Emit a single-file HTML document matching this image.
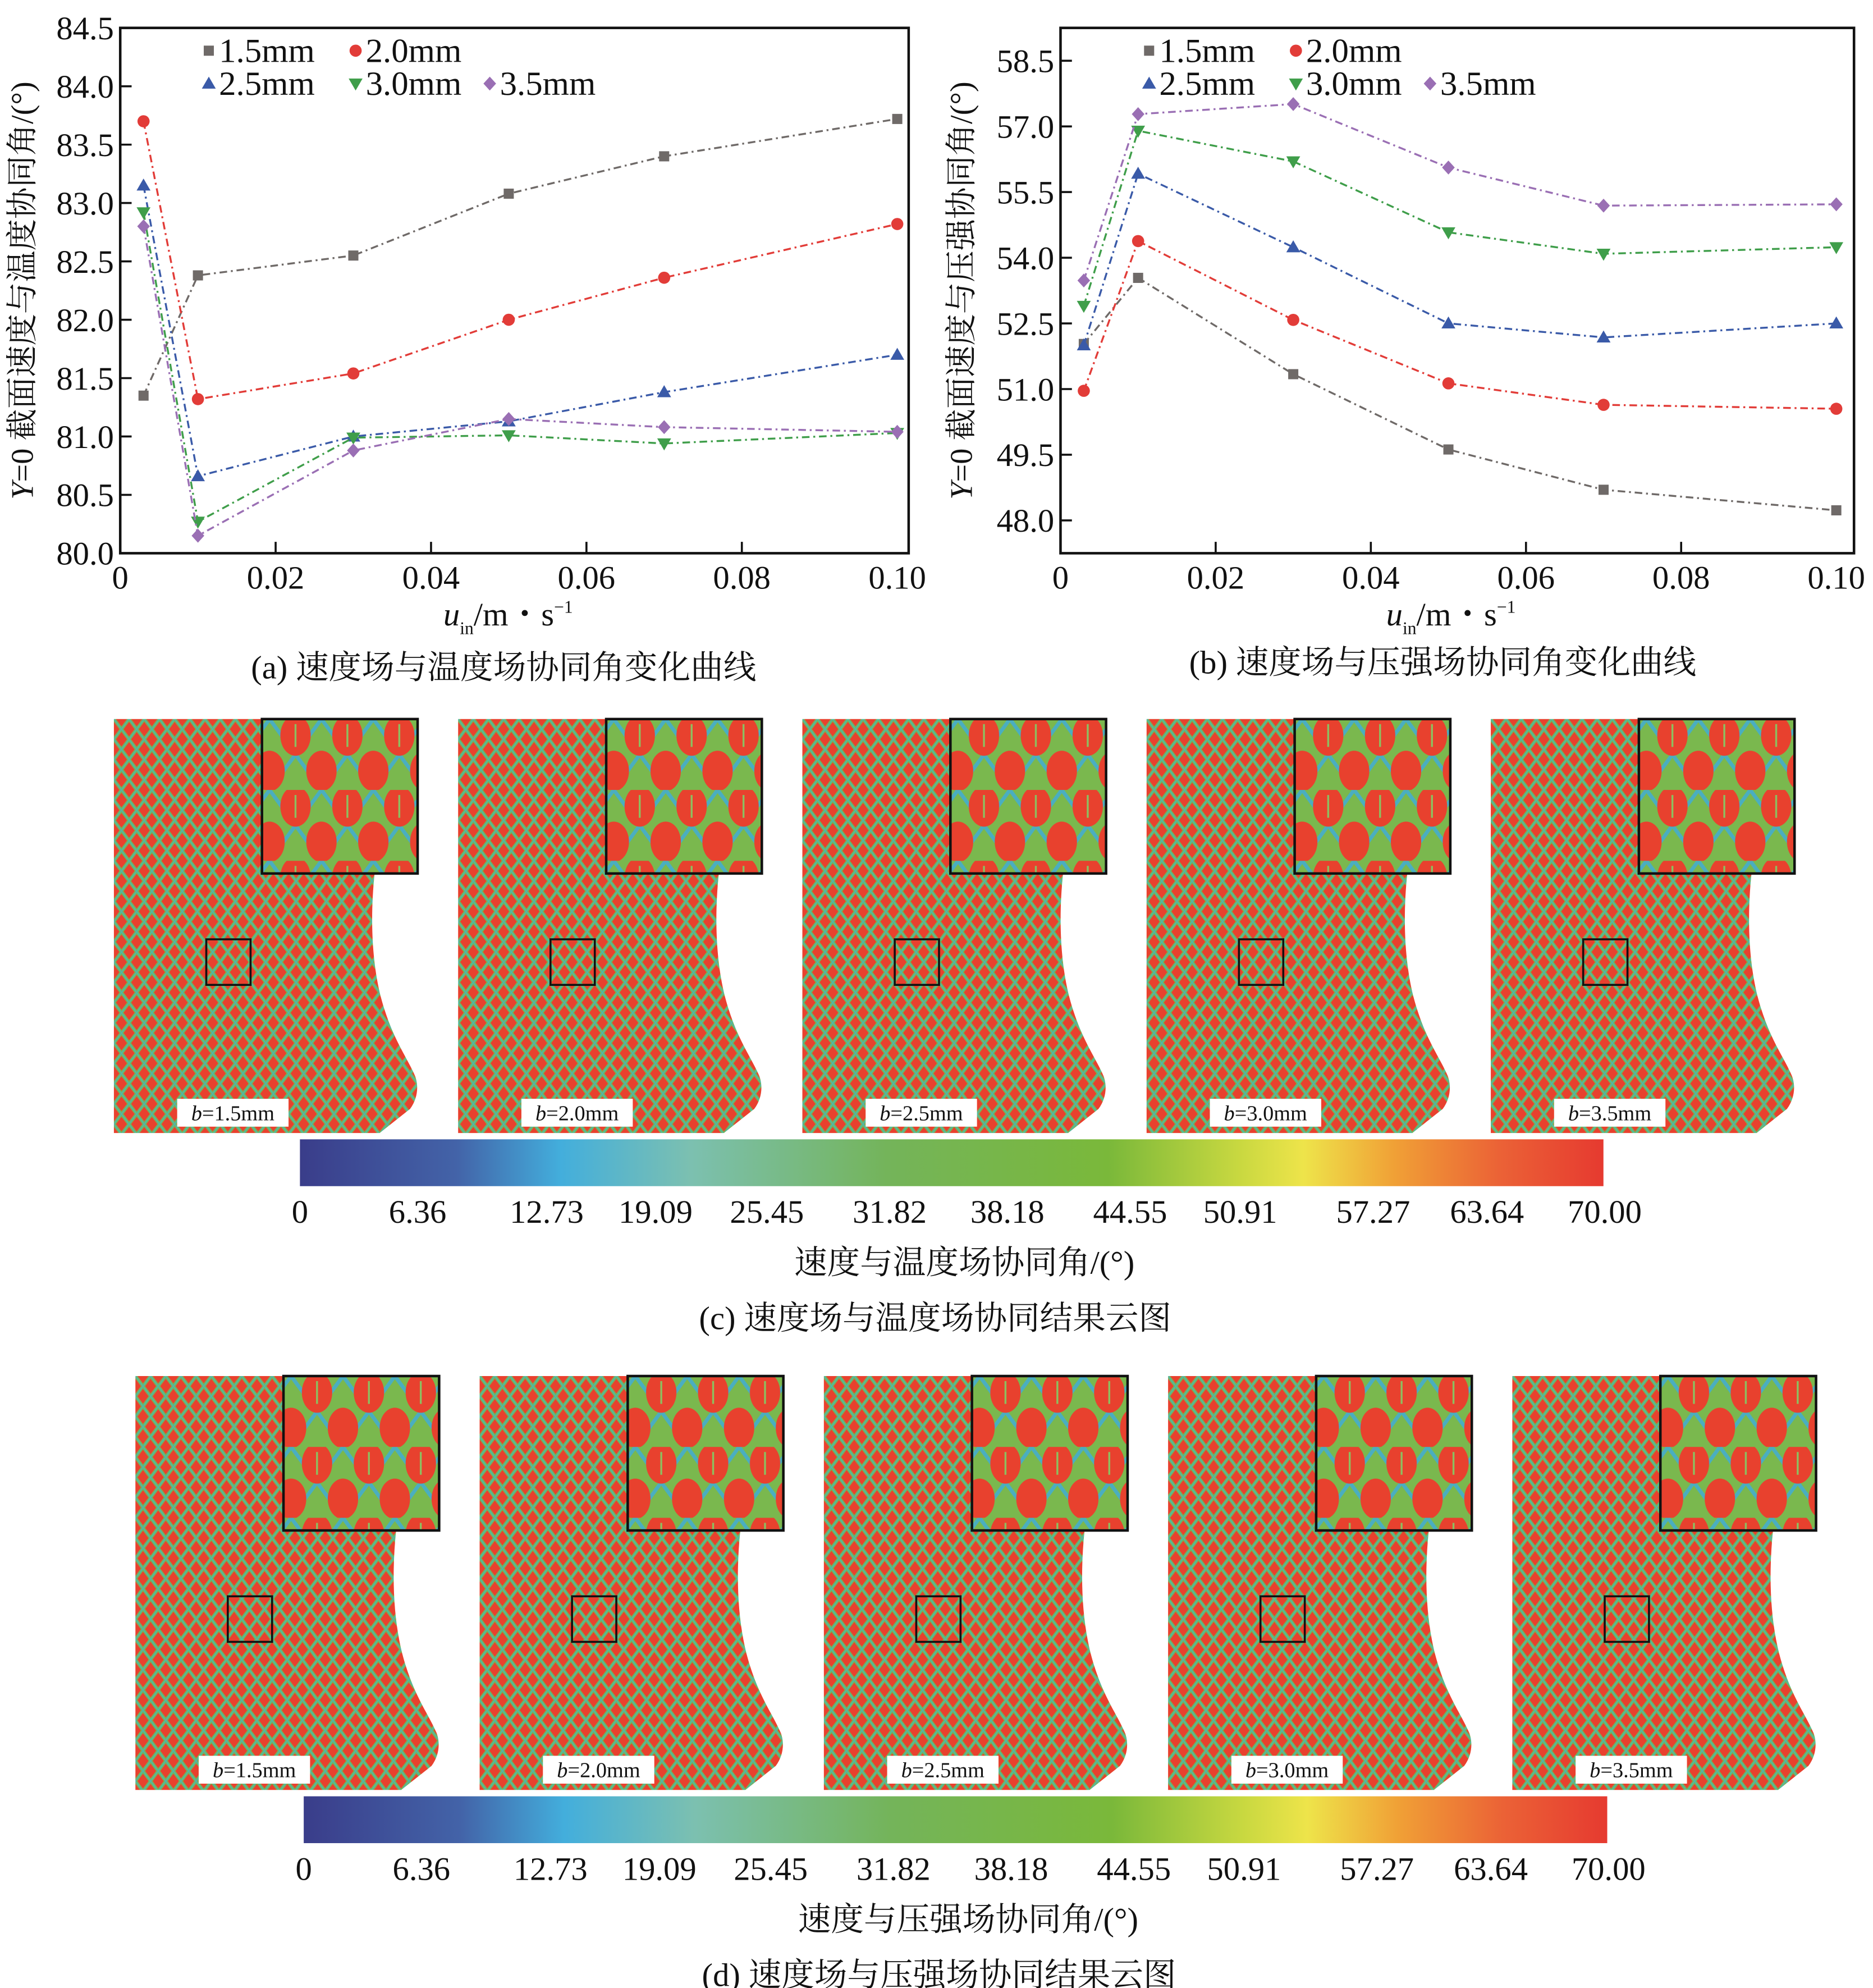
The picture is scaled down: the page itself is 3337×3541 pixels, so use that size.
<!DOCTYPE html>
<html><head><meta charset="utf-8"><style>
html,body{margin:0;padding:0;background:#fff}
svg{display:block}
text{font-family:"Liberation Serif","Noto Serif CJK SC",serif;fill:#111}
</style></head><body>
<svg id="root" xmlns="http://www.w3.org/2000/svg" width="3337" height="3541" viewBox="0 0 1480 1570.4">
<defs>
<pattern id="pat" width="12" height="16" patternUnits="userSpaceOnUse">
<rect width="12" height="16" fill="#e8412e"/>
<path d="M0,0 L12,16 M12,0 L0,16" stroke="#72b65a" stroke-width="2.6"/>
<path d="M0,0 L12,16 M12,0 L0,16" stroke="#4fb3b0" stroke-width="0.8"/>
</pattern>
<pattern id="patBig" width="41" height="56" patternUnits="userSpaceOnUse">
<rect width="41" height="56" fill="#7ab84e"/>
<path d="M0,0 L41,56 M41,0 L0,56" stroke="#4aaec0" stroke-width="3"/>
<ellipse cx="20.5" cy="13" rx="12" ry="16" fill="#e8412e"/>
<ellipse cx="0" cy="41" rx="12" ry="16" fill="#e8412e"/>
<ellipse cx="41" cy="41" rx="12" ry="16" fill="#e8412e"/>
<line x1="20.5" y1="4" x2="20.5" y2="22" stroke="#8cc060" stroke-width="1.5"/>
</pattern>
<linearGradient id="cbar" x1="0" x2="1" y1="0" y2="0">
<stop offset="0" stop-color="#3a3d8a"/>
<stop offset="0.12" stop-color="#4363a8"/>
<stop offset="0.2" stop-color="#43aedc"/>
<stop offset="0.3" stop-color="#7cc0b0"/>
<stop offset="0.45" stop-color="#74b45a"/>
<stop offset="0.62" stop-color="#7ab83a"/>
<stop offset="0.72" stop-color="#c8d840"/>
<stop offset="0.77" stop-color="#eee44a"/>
<stop offset="0.84" stop-color="#f0a036"/>
<stop offset="0.92" stop-color="#eb6236"/>
<stop offset="1" stop-color="#e63a30"/>
</linearGradient>
</defs>
<g id="charts"></g>
<g id="maps"></g>
</svg>
<script>
const xs=[0.003,0.01,0.03,0.05,0.07,0.1];
const seriesNames=["1.5mm","2.0mm","2.5mm","3.0mm","3.5mm"];
const colors=["#6f6a68","#e23c38","#3a5aa8","#3f9e4a","#9a6fb4"];
const markers=["square","circle","up","down","diamond"];
const aS15=[81.35,82.38,82.55,83.08,83.4,83.72];
const aS20=[83.7,81.32,81.54,82.0,82.36,82.82];
const aS25=[83.15,80.66,81.0,81.13,81.38,81.7];
const aS30=[82.92,80.27,80.99,81.01,80.94,81.03];
const aS35=[82.8,80.15,80.88,81.15,81.08,81.04];
const bS15=[52.03,53.54,51.34,49.62,48.7,48.23];
const bS20=[50.96,54.38,52.58,51.13,50.64,50.55];
const bS25=[52.0,55.92,54.24,52.5,52.18,52.5];
const bS30=[52.9,56.9,56.2,54.58,54.09,54.24];
const bS35=[53.48,57.28,57.51,56.06,55.19,55.22];
const aYTicks=["80.0","80.5","81.0","81.5","82.0","82.5","83.0","83.5","84.0","84.5"];
const bYTicks=["48.0","49.5","51.0","52.5","54.0","55.5","57.0","58.5"];
const xTicks=["0","0.02","0.04","0.06","0.08","0.10"];
const cbLabels=["0","6.36","12.73","19.09","25.45","31.82","38.18","44.55","50.91","57.27","63.64","70.00"];

const NS="http://www.w3.org/2000/svg";
function mk(tag,attrs,parent){const e=document.createElementNS(NS,tag);for(const k in attrs)e.setAttribute(k,attrs[k]);parent.appendChild(e);return e;}
function txt(s,attrs,parent){const e=mk("text",attrs,parent);e.textContent=s;return e;}

function marker(g,type,x,y,c){
  let e;
  if(type==="square")e=mk("rect",{x:x-4,y:y-4,width:8,height:8,fill:c},g);
  else if(type==="circle")e=mk("circle",{cx:x,cy:y,r:4.8,fill:c},g);
  else if(type==="up")e=mk("polygon",{points:`${x},${y-5.5} ${x+5.5},${y+4} ${x-5.5},${y+4}`,fill:c},g);
  else if(type==="down")e=mk("polygon",{points:`${x},${y+5.5} ${x+5.5},${y-4} ${x-5.5},${y-4}`,fill:c},g);
  else e=mk("polygon",{points:`${x},${y-5.5} ${x+5},${y} ${x},${y+5.5} ${x-5},${y}`,fill:c},g);
  
  
}

function chart(cfg){
  const root=document.getElementById("charts");
  const g=mk("g",{},root);
  
  
  const {L,R,T,B,x0,x1,ymin,ymax}=cfg;
  const px=v=>x0+(v)*(x1-x0)/0.1;
  const py=v=>B-(v-ymin)*(B-T)/(ymax-ymin);
  const box=mk("rect",{x:L,y:T,width:R-L,height:B-T,fill:"none",stroke:"#111","stroke-width":2},g);
  
  xTicks.forEach((t,i)=>{const v=i*0.02;const x=px(v);
    if(i>0&&i<5)mk("line",{x1:x,x2:x,y1:B,y2:B-9,stroke:"#111","stroke-width":1.6},g);
    const tl=txt(t,{x:x,y:B+28,"text-anchor":"middle","font-size":26},g);
    
  });
  cfg.yTicks.forEach(t=>{const y=py(parseFloat(t));
    mk("line",{x1:L,x2:L+9,y1:y,y2:y,stroke:"#111","stroke-width":1.6},g);
    const tl=txt(t,{x:L-5,y:y+9,"text-anchor":"end","font-size":26},g);
    
  });
  cfg.series.forEach((s,k)=>{
    const pts=s.map((v,i)=>`${px(xs[i])},${py(v)}`).join(" ");
    const pl=mk("polyline",{points:pts,fill:"none",stroke:colors[k],"stroke-width":1.5,"stroke-dasharray":"6 3 1.5 3"},g);
    
    s.forEach((v,i)=>marker(g,markers[k],px(xs[i]),py(v),colors[k]));
  });
  const lg=mk("g",{},g);
  
  const pos=[[L+70,49],[L+186,49],[L+70,75],[L+186,75],[L+292,75]];
  pos.forEach((p,k)=>{marker(lg,markers[k],p[0],p[1]-9,colors[k]);
    const t=txt(seriesNames[k],{x:p[0]+8,y:p[1],"font-size":27},lg);
    });
  const yl=txt("",{transform:`translate(${cfg.ylx},${(T+B)/2}) rotate(-90)`,"text-anchor":"middle","font-size":25},g);
  yl.innerHTML='<tspan font-style="italic">Y</tspan>=0 截面速度与'+cfg.ylab+'协同角/(°)';
  
  const xl=txt("",{x:(L+R)/2-5,y:B+57,"text-anchor":"middle","font-size":26},g);
  xl.innerHTML='<tspan font-style="italic">u</tspan><tspan font-size="14" dy="7">in</tspan><tspan dy="-7">/m・s</tspan><tspan font-size="14" dy="-10">−1</tspan>';
  
  const cap=txt(cfg.cap,{x:cfg.capx,y:cfg.capy,"text-anchor":"middle","font-size":26},g);
  
}
chart({name:"chart-a",L:95,R:718,T:22,B:437,x0:95,x1:709,ymin:80,ymax:84.5,yTicks:aYTicks,
  series:[aS15,aS20,aS25,aS30,aS35],ylab:"温度",ylx:26,cap:"(a) 速度场与温度场协同角变化曲线",capx:398,capy:536});
chart({name:"chart-b",L:838,R:1465,T:22,B:437,x0:838,x1:1451,ymin:47.25,ymax:59.25,yTicks:bYTicks,
  series:[bS15,bS20,bS25,bS30,bS35],ylab:"压强",ylx:768,cap:"(b) 速度场与压强场协同角变化曲线",capx:1140,capy:532});

const bLabels=["1.5mm","2.0mm","2.5mm","3.0mm","3.5mm"];
function row(ox,oy,cb,title,cap){
  const root=document.getElementById("maps");
  for(let i=0;i<5;i++){
    const x=ox+i*272,y=oy;
    const g=mk("g",{transform:`translate(${x},${y})`},root);
    
    const d="M0,0 H240 V122 H206 C202,160 204,200 214,230 C222,255 232,268 238,282 C241,290 240,300 234,308 L210,327 H0 Z";
    mk("path",{d:d,fill:"url(#pat)"},g);
    const ins=mk("rect",{x:117,y:0,width:123,height:122,fill:"url(#patBig)",stroke:"#111","stroke-width":2},g);
    
    const zb=mk("rect",{x:73,y:174,width:35,height:36,fill:"none",stroke:"#111","stroke-width":1.6},g);
    
    mk("rect",{x:50,y:300,width:88,height:22,fill:"#fff"},g);
    const t=txt("",{x:94,y:317,"text-anchor":"middle","font-size":17},g);
    t.innerHTML='<tspan font-style="italic">b</tspan>='+bLabels[i];
    
  }
  const cg=mk("g",{},root);
  
  mk("rect",{x:cb,y:oy+332,width:1030,height:37,fill:"url(#cbar)"},cg);
  const lpos=[0,93,195,281,369,466,559,656,743,848,938,1031];
  cbLabels.forEach((l,i)=>{const t=txt(l,{x:cb+lpos[i],y:oy+398,"text-anchor":"middle","font-size":26},cg);
    });
  const tt=txt(title,{x:cb+525,y:oy+438,"text-anchor":"middle","font-size":26},root);
  
  const cc=txt(cap,{x:cb+502,y:oy+482,"text-anchor":"middle","font-size":26},root);
  
}
row(90,568,237,"速度与温度场协同角/(°)","(c) 速度场与温度场协同结果云图");
row(107,1087,240,"速度与压强场协同角/(°)","(d) 速度场与压强场协同结果云图");
</script>
</body></html>
